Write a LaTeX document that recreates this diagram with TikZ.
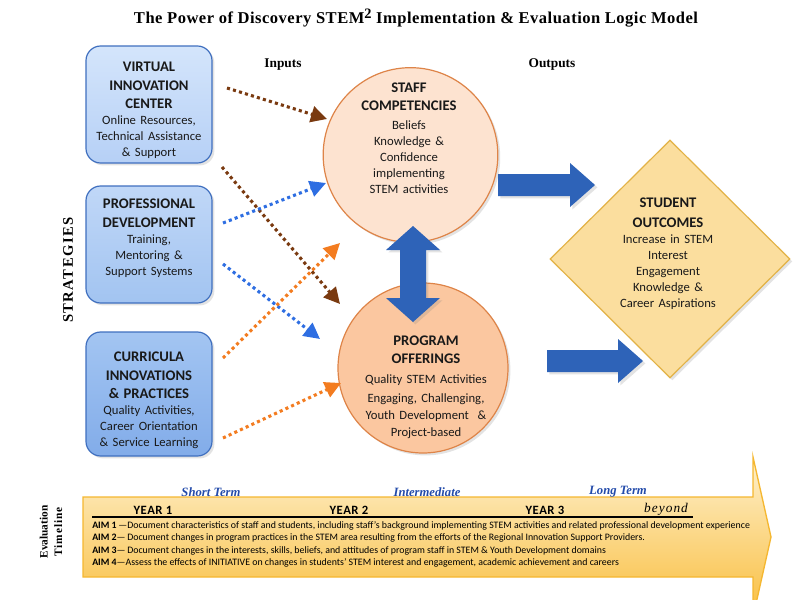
\documentclass[tikz,border=0pt]{standalone}
\usepackage{fontspec}
\setmainfont{Liberation Serif}
\newfontfamily\calib{Carlito}
\newfontfamily\titlefont[LetterSpace=3]{Liberation Serif}
\newfontfamily\stratfont[LetterSpace=10]{Liberation Serif}
\newfontfamily\timefont[LetterSpace=9]{Liberation Serif}
\newfontfamily\beyondfont[LetterSpace=8]{Liberation Serif}
\newfontfamily\yearfont[LetterSpace=4]{Carlito}
\usetikzlibrary{arrows.meta,shadows,shapes.geometric}
\definecolor{boxedge}{RGB}{63,111,191}
\definecolor{boxAtop}{RGB}{212,229,251}
\definecolor{boxAbot}{RGB}{182,208,246}
\definecolor{boxBtop}{RGB}{192,215,247}
\definecolor{boxBbot}{RGB}{162,196,241}
\definecolor{boxCtop}{RGB}{163,197,242}
\definecolor{boxCbot}{RGB}{130,172,233}
\definecolor{circedge}{RGB}{222,132,72}
\definecolor{circA}{RGB}{253,227,208}
\definecolor{circB}{RGB}{251,199,160}
\definecolor{diafill}{RGB}{251,222,158}
\definecolor{diaedge}{RGB}{226,178,70}
\definecolor{blockblue}{RGB}{46,99,184}
\definecolor{dotbrown}{RGB}{122,58,16}
\definecolor{dotblue}{RGB}{46,110,226}
\definecolor{dotorange}{RGB}{243,124,32}
\definecolor{tltop}{RGB}{254,240,205}
\definecolor{tlbot}{RGB}{249,190,62}
\definecolor{tledge}{RGB}{245,183,48}
\definecolor{termblue}{RGB}{35,75,170}
\newcommand\ttl[1]{{\bfseries\fontsize{11}{14}\selectfont #1\par}}
\newcommand\bdy[1]{{\fontsize{9.5}{12}\selectfont #1\par}}
\newcommand\aim[2]{{\fontsize{7.4}{9}\selectfont\textbf{AIM #1}#2}}
\begin{document}
\begin{tikzpicture}[x=0.75pt,y=-0.75pt,
  softshadow/.style={drop shadow={opacity=0.22,shadow xshift=1.8pt,shadow yshift=-1.8pt}},
  stratbox/.style={draw=boxedge,line width=0.9pt,rounded corners=11pt,minimum width=94.5pt,inner sep=0pt,softshadow},
  ctext/.style={text width=118pt,align=center,font=\calib,text=black!90,inner sep=0pt},
  bigcirc/.style={circle,draw=circedge,line width=0.9pt,inner sep=0pt,softshadow},
  dotarrow/.style={line width=2.3pt,dash pattern=on 2.3pt off 2.4pt,-{Triangle[length=12pt,width=12pt]}},
  serifhead/.style={font=\bfseries\fontsize{10}{12}\selectfont},
  termtext/.style={font=\bfseries\itshape\fontsize{9.5}{11}\selectfont,text=termblue},
  yeartext/.style={font=\yearfont\bfseries\fontsize{9.5}{11}\selectfont}
]
\useasboundingbox[fill=white] (0,0) rectangle (800,600);

% title
\node[font=\titlefont\bfseries\fontsize{12.4}{14}\selectfont] (title) at (416,18)
  {The Power of Discovery STEM\raisebox{3.5pt}{\fontsize{10.8}{11}\selectfont 2} Implementation \& Evaluation Logic Model};

\node[serifhead] (inputs) at (283,65) {Inputs};
\node[serifhead] (outputs) at (552,65) {Outputs};

\node[rotate=90,font=\stratfont\bfseries\fontsize{11}{13}\selectfont] (strat) at (68,270) {STRATEGIES};
\node[rotate=90,font=\bfseries\fontsize{8.5}{11}\selectfont,align=center] (evtl) at (51,532)
  {Evaluation\\{\timefont Timeline}};

% timeline arrow
\path[top color=tltop,bottom color=tlbot,draw=tledge,line width=1pt]
  (83,497) -- (753,497) -- (753,457) -- (771,537) -- (753,617) -- (753,577) -- (83,577) -- cycle;

% strategy boxes
\node[stratbox,minimum height=87.75pt,top color=boxAtop,bottom color=boxAbot] (vic) at (149,104.5) {};
\node[stratbox,minimum height=87.75pt,top color=boxBtop,bottom color=boxBbot] (pd) at (149,244.5) {};
\node[stratbox,minimum height=93pt,top color=boxCtop,bottom color=boxCbot] (cip) at (149,394) {};

\node[ctext] (vict) at (149,110.5)
  {\ttl{VIRTUAL}\ttl{INNOVATION}\ttl{CENTER}\bdy{Online Resources,}\bdy{Technical Assistance}\bdy{\& Support}};
\node[ctext] (pdt) at (149,238)
  {\ttl{PROFESSIONAL}\ttl{DEVELOPMENT}\bdy{Training,}\bdy{Mentoring \&}\bdy{Support Systems}};
\node[ctext] (cipt) at (149,400.5)
  {\ttl{CURRICULA}\ttl{INNOVATIONS}\ttl{\& PRACTICES}\bdy{Quality Activities,}\bdy{Career Orientation}\bdy{\& Service Learning}};

% circles
\node[bigcirc,minimum size=131pt,fill=circA] (staff) at (410.5,155) {};
\node[bigcirc,minimum size=127.5pt,fill=circB] (prog) at (423,368) {};

\node[ctext] (stafft) at (409,138)
  {\ttl{STAFF}\ttl{COMPETENCIES}\vspace{2pt}\bdy{Beliefs}\bdy{Knowledge \&}\bdy{Confidence}\bdy{implementing}\bdy{STEM activities}};
\node[ctext] (progt) at (426,387)
  {\ttl{PROGRAM}\ttl{OFFERINGS}\vspace{2pt}{\fontsize{9.5}{13}\selectfont Quality STEM Activities\par}\vspace{1pt}{\fontsize{9.5}{12.75}\selectfont Engaging, Challenging,\par Youth Development~ \&\par Project-based\par}};

% diamond
\node[diamond,aspect=1,draw=diaedge,line width=0.9pt,fill=diafill,minimum width=180pt,minimum height=178.5pt,inner sep=0pt,softshadow] (outc) at (670,259) {};
\node[ctext] (outct) at (668,254)
  {{\bfseries\fontsize{11}{15}\selectfont STUDENT\par OUTCOMES\par}\bdy{Increase in STEM}\bdy{Interest}\bdy{Engagement}\bdy{Knowledge \&}\bdy{Career Aspirations}};

% dotted input arrows
\coordinate (s1) at (227,88);  \coordinate (e1) at (327,119);
\coordinate (s2) at (222,167); \coordinate (e2) at (340,304);
\coordinate (s3) at (223,223); \coordinate (e3) at (326,183);
\coordinate (s4) at (223,264); \coordinate (e4) at (320,339);
\coordinate (s5) at (223,358); \coordinate (e5) at (340,243);
\coordinate (s6) at (223,438); \coordinate (e6) at (341,383);
\draw[dotarrow,dotbrown] (s1) -- (e1);
\draw[dotarrow,dotbrown] (s2) -- (e2);
\draw[dotarrow,dotblue] (s3) -- (e3);
\draw[dotarrow,dotblue] (s4) -- (e4);
\draw[dotarrow,dotorange] (s5) -- (e5);
\draw[dotarrow,dotorange] (s6) -- (e6);

% block arrows
\coordinate (dbl) at (413,226);
\fill[blockblue,softshadow,shift={(dbl)}] (0,0) -- (27,24) -- (13,24) -- (13,72) -- (27,72) -- (0,96)
  -- (-27,72) -- (-13,72) -- (-13,24) -- (-27,24) -- cycle;
\coordinate (ra1) at (498,185);
\fill[blockblue,softshadow,shift={(ra1)}] (0,-11) -- (72,-11) -- (72,-22) -- (97,0) -- (72,22) -- (72,11) -- (0,11) -- cycle;
\coordinate (ra2) at (547,361);
\fill[blockblue,softshadow,shift={(ra2)}] (0,-11) -- (71,-11) -- (71,-22) -- (96,0) -- (71,22) -- (71,11) -- (0,11) -- cycle;

% timeline texts
\node[termtext] (st) at (211,492) {Short Term};
\node[termtext] (im) at (427,492) {Intermediate};
\node[termtext] (lt) at (618,492) {Long Term};
\node[yeartext] (y1) at (153,510) {YEAR 1};
\node[yeartext] (y2) at (349,510) {YEAR 2};
\node[yeartext] (y3) at (545,510) {YEAR 3};
\node[font=\beyondfont\itshape\fontsize{10}{11}\selectfont] (bey) at (666,509) {beyond};
\coordinate (ul1) at (92,517); \coordinate (ul2) at (693,517);
\draw[line width=0.8pt,black] (ul1) -- (ul2);
\node[anchor=west,font=\calib,inner sep=0pt] (a1) at (92,526) {\aim{1}{\,—Document characteristics of staff and students, including staff’s background implementing STEM activities and related professional development experience}};
\node[anchor=west,font=\calib,inner sep=0pt] (a2) at (92,538) {\aim{2}{—\,Document changes in program practices in the STEM area resulting from the efforts of the Regional Innovation Support Providers.}};
\node[anchor=west,font=\calib,inner sep=0pt] (a3) at (92,550.5) {\aim{3}{—\,Document changes in the interests, skills, beliefs, and attitudes of program staff in STEM \& Youth Development domains}};
\node[anchor=west,font=\calib,inner sep=0pt] (a4) at (92,563) {\aim{4}{—Assess the effects of INITIATIVE on changes in students’ STEM interest and engagement, academic achievement and careers}};
\end{tikzpicture}
\end{document}
